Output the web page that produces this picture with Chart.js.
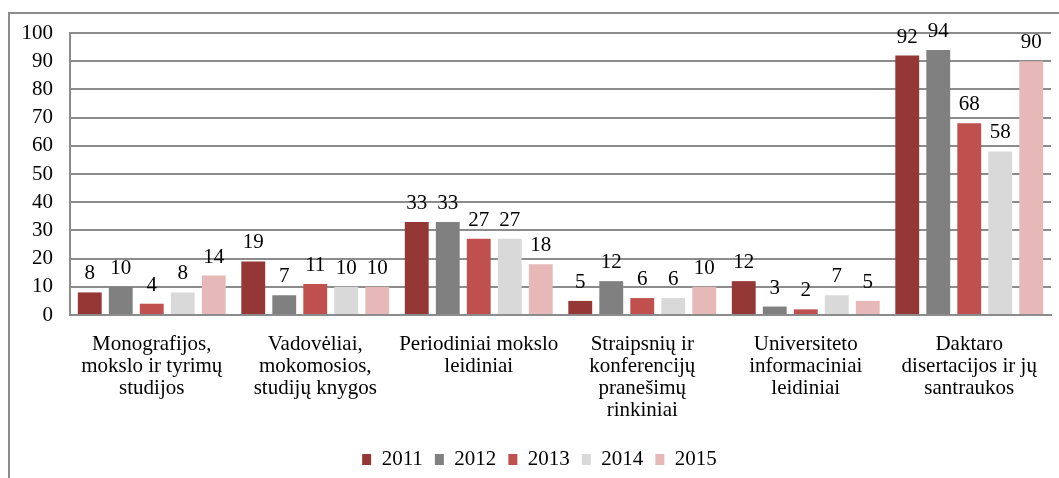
<!DOCTYPE html>
<html><head><meta charset="utf-8">
<script src="https://cdn.jsdelivr.net/npm/chart.js@4/dist/chart.umd.min.js"></script>
<style>
html,body{margin:0;padding:0;background:#fff;overflow:hidden;}
#frame{position:absolute;left:8px;top:12px;width:1100px;height:520px;border:2px solid #8c8c8c;box-sizing:border-box;}
#wrap{position:absolute;left:0;top:0;width:1059px;height:478px;}
</style></head>
<body>
<div id="frame"></div>
<div id="wrap"><canvas id="c" width="1059" height="478"></canvas></div>
<script>
const categories = [
  ["Monografijos,", "mokslo ir tyrimų", "studijos"],
  ["Vadovėliai,", "mokomosios,", "studijų knygos"],
  ["Periodiniai mokslo", "leidiniai"],
  ["Straipsnių ir", "konferencijų", "pranešimų", "rinkiniai"],
  ["Universiteto", "informaciniai", "leidiniai"],
  ["Daktaro", "disertacijos ir jų", "santraukos"]
];
const years = ["2011", "2012", "2013", "2014", "2015"];
const v2011 = [8, 19, 33, 5, 12, 92];
const v2012 = [10, 7, 33, 12, 3, 94];
const v2013 = [4, 11, 27, 6, 2, 68];
const v2014 = [8, 10, 27, 6, 7, 58];
const v2015 = [14, 10, 18, 10, 5, 90];
const colors = ["#953735", "#808080", "#C0504D", "#D9D9D9", "#E6B9B8"];
const seriesValues = [v2011, v2012, v2013, v2014, v2015];

const FONT = "'Liberation Serif', 'Times New Roman', serif";
const FS = 21;

const valueLabels = {
  id: 'valueLabels',
  afterDatasetsDraw(chart) {
    const ctx = chart.ctx;
    ctx.save();
    ctx.font = FS + "px " + FONT;
    ctx.fillStyle = "#000";
    ctx.textAlign = "center";
    ctx.textBaseline = "alphabetic";
    chart.data.datasets.forEach((ds, i) => {
      chart.getDatasetMeta(i).data.forEach((bar, j) => {
        ctx.fillText(String(ds.data[j]), bar.x, bar.y - 13);
      });
    });
    ctx.restore();
  }
};

const legendShift = {
  id: 'legendShift',
  afterLayout(chart) {
    const lg = chart.legend;
    if (!lg) return;
    lg.left += 14; lg.right += 14;
    lg.top += 2; lg.bottom += 2;
  }
};

new Chart(document.getElementById('c'), {
  type: 'bar',
  data: {
    labels: categories,
    datasets: years.map((y, i) => ({
      label: y,
      data: seriesValues[i],
      backgroundColor: colors[i],
      borderWidth: 0,
      categoryPercentage: 0.948,
      barPercentage: 0.77
    }))
  },
  options: {
    responsive: false,
    animation: false,
    devicePixelRatio: 1,
    layout: { padding: { top: 33, right: 8, left: 0, bottom: 0 } },
    plugins: {
      legend: {
        position: 'bottom',
        labels: {
          font: { family: FONT, size: FS },
          color: '#000',
          boxWidth: 9,
          boxHeight: 11,
          padding: 12
        }
      },
      tooltip: { enabled: false }
    },
    scales: {
      x: {
        grid: { display: false, drawTicks: false },
        border: { display: true, color: '#8c8c8c', width: 2 },
        ticks: {
          font: { family: FONT, size: FS, lineHeight: 1.05 },
          color: '#000',
          maxRotation: 0,
          autoSkip: false,
          padding: 18
        },
        afterFit(scale) { scale.height = 120; }
      },
      y: {
        min: 0, max: 100,
        ticks: {
          stepSize: 10,
          font: { family: FONT, size: FS },
          color: '#000',
          padding: 17
        },
        grid: { color: '#8c8c8c', lineWidth: 2, drawTicks: false },
        border: { display: true, color: '#8c8c8c', width: 2 },
        afterFit(scale) { scale.width = 70; }
      }
    }
  },
  plugins: [valueLabels, legendShift]
});
</script>
</body></html>
